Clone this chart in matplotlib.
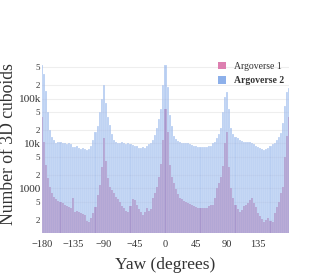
import numpy as np
import matplotlib
matplotlib.use("Agg")
import matplotlib.pyplot as plt
from matplotlib.patches import Patch

# ---- data (3-degree bins centred on multiples of 3, from -180 to 180) ----
bin_width = 3
yaw_centers = list(range(-180, 181, 3))

argo2 = [
    550000, 350000, 150000, 50000, 20000, 14000, 12000, 10500, 11000, 10800,   # -180..-153
    10000, 10500, 9800, 10200, 9500, 8500, 8200, 8800, 8000, 7600,            # -150..-123
    8000, 7400, 7200, 7600, 9000, 12000, 18000, 25000, 50000, 100000,         # -120..-93
    200000, 80000, 38000, 26000, 16000, 12000, 11000, 10500, 10000, 10600,    # -90..-63
    10200, 9800, 10400, 9800, 9400, 9000, 8600, 8000, 7800, 8200,             # -60..-33
    8000, 8600, 9500, 10500, 12000, 15500, 22000, 35000, 60000, 200000,       # -30..-3
    550000,                                                                    # 0
    180000, 42000, 25000, 15000, 12500, 11500, 11000, 10500, 10000, 10400,    # 3..30
    10000, 9800, 9400, 9000, 8600, 8400, 8500, 8200, 8500, 8400,              # 33..60
    8600, 9000, 10000, 11000, 13000, 16000, 22000, 50000, 110000, 140000,     # 63..90
    60000, 22000, 16000, 14000, 13000, 12000, 11500, 11000, 11000, 11000,     # 93..120
    10800, 10000, 9500, 9000, 8500, 8000, 7600, 7300, 7400, 8000,             # 123..150
    8600, 9500, 10300, 12000, 14000, 17000, 28000, 70000, 140000, 170000,     # 153..180
]

argo1 = [
    38000, 11000, 3300, 1700, 1050, 800, 640, 580, 530, 500,                  # -180..-153
    470, 430, 400, 380, 360, 620, 300, 310, 300, 280,                         # -150..-123
    270, 250, 190, 180, 220, 280, 380, 700, 1200, 3000,                       # -120..-93
    13000, 4000, 1700, 1050, 900, 780, 650, 580, 500, 400,                    # -90..-63
    360, 320, 300, 400, 580, 550, 430, 350, 300, 260,                         # -60..-33
    300, 370, 320, 350, 600, 800, 1050, 1800, 3500, 12000,                    # -30..-3
    60000,                                                                     # 0
    18000, 3300, 1800, 1300, 950, 750, 620, 580, 520, 500,                    # 3..30
    480, 450, 430, 410, 390, 370, 360, 370, 360, 370,                         # 33..60
    400, 430, 420, 600, 1000, 1300, 1800, 3200, 10000, 18000,                 # 63..90
    3000, 1000, 600, 430, 350, 300, 330, 400, 430, 480,                       # 93..120
    550, 620, 480, 380, 280, 240, 210, 180, 200, 220,                         # 123..150
    190, 180, 280, 380, 500, 800, 1100, 5000, 15000, 38000,                   # 153..180
]

series_names = ["Argoverse 1", "Argoverse 2"]
x_ticks = [-180, -135, -90, -45, 0, 45, 90, 135]
y_ticks = [200, 500, 1000, 2000, 5000, 10000, 20000, 50000, 100000, 200000, 500000]
y_tick_labels = ["2", "5", "1000", "2", "5", "10k", "2", "5", "100k", "2", "5"]

assert len(argo1) == len(yaw_centers) == len(argo2)

# ---- figure ----
plt.rcParams['font.family'] = ['Liberation Serif', 'DejaVu Serif']
fig = plt.figure(figsize=(3.32, 2.77), dpi=100)
ax = fig.add_axes([0.1265, 0.159, 0.744, 0.617])

c1_bar = '#d4709f'
c2_bar = '#8db0ea'
ax.bar(yaw_centers, argo1, width=bin_width, bottom=1, color=c1_bar,
       linewidth=0, zorder=2)
ax.bar(yaw_centers, argo2, width=bin_width, bottom=1, color=c2_bar,
       alpha=0.62, edgecolor='white', linewidth=0.25, zorder=3)

ax.set_yscale('log')
ax.set_ylim(102, 650000)
ax.set_xlim(-180, 180)

ax.set_yticks(y_ticks)
ax.set_yticklabels(y_tick_labels)
ax.yaxis.set_minor_locator(matplotlib.ticker.NullLocator())
for lab, txt in zip(ax.get_yticklabels(), y_tick_labels):
    lab.set_fontsize(8.2 if len(txt) > 1 else 6.5)
    lab.set_color('#333333')
ax.set_xticks(x_ticks)
ax.set_xticklabels([f"{t}".replace('-', '\u2212') for t in x_ticks], fontsize=7.5,
                   color='#333333')
ax.tick_params(axis='y', length=0, pad=1.5)
ax.tick_params(axis='x', length=0, pad=5)

ax.grid(axis='y', color='#eeeeee', linewidth=0.8, zorder=0)
ax.set_axisbelow(True)
for s in ax.spines.values():
    s.set_visible(False)

ax.set_xlabel("Yaw (degrees)", fontsize=12.5, color='#333333', va='center')
ax.xaxis.set_label_coords(0.5, -0.187)
ax.set_ylabel("Number of 3D cuboids", fontsize=12.7, color='#333333', va='center')
ax.yaxis.set_label_coords(-0.134, 0.523)

handles = [Patch(facecolor='#dd7fb0', edgecolor='none'),
           Patch(facecolor='#8db0ea', edgecolor='none')]
leg = fig.legend(handles, series_names, loc='upper left',
                 bbox_to_anchor=(214 / 332, 1 - 58 / 277), frameon=False,
                 fontsize=7, handlelength=0.8, handleheight=0.8,
                 handletextpad=0.9, labelspacing=0.55, borderaxespad=0)
leg.get_texts()[1].set_fontweight('bold')
for t in leg.get_texts():
    t.set_color('#333333')

fig.savefig("out.png", dpi=100)
